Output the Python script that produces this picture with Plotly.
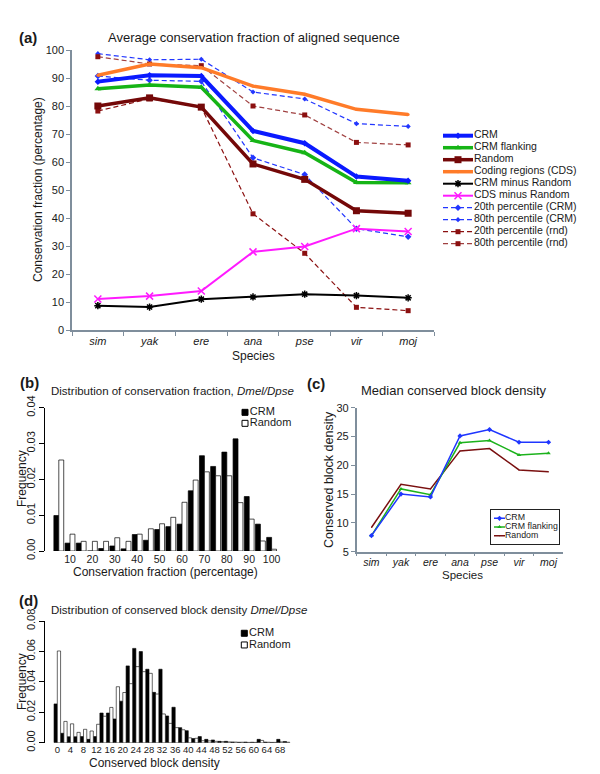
import plotly.graph_objects as go

W, H = 600, 774

# ---------------- data ----------------
species = ["sim", "yak", "ere", "ana", "pse", "vir", "moj"]
species_ticktext = ["<i>" + s + "</i>" for s in species]

# (a) average conservation fraction (percentage)
crm = [88.7, 91.0, 90.7, 71.1, 66.7, 54.8, 53.3]
crm_flanking = [86.2, 87.5, 86.7, 67.7, 63.3, 52.7, 52.6]
random_seq = [80.0, 82.9, 79.6, 59.3, 53.8, 42.6, 41.7]
cds = [91.0, 95.0, 93.7, 87.1, 84.2, 78.8, 77.0]
crm_minus_random = [8.7, 8.2, 11.0, 11.8, 12.8, 12.3, 11.5]
cds_minus_random = [11.1, 12.1, 13.9, 27.9, 29.8, 36.2, 35.2]
p20_crm = [90.7, 89.2, 88.8, 61.5, 55.5, 36.2, 33.3]
p80_crm = [98.7, 96.5, 96.7, 85.0, 82.5, 73.7, 72.7]
p20_rnd = [78.2, 82.6, 79.6, 41.5, 27.4, 8.1, 6.9]
p80_rnd = [97.6, 95.0, 94.4, 80.0, 76.8, 67.0, 66.1]

# (b) distribution of conservation fraction
cons_bins = [5, 10, 15, 20, 25, 30, 35, 40, 45, 50, 55, 60, 65, 70, 75, 80, 85, 90, 95, 100]
cons_crm = [0.0099, 0.0022, 0.0022, 0.0, 0.0007, 0.0014, 0.0006, 0.0046, 0.0030, 0.0060,
            0.0068, 0.0075, 0.0168, 0.0266, 0.0236, 0.0276, 0.0313, 0.0152, 0.0075, 0.0038]
cons_rnd = [0.0254, 0.0047, 0.0027, 0.0027, 0.0027, 0.0037, 0.0027, 0.0047, 0.0062, 0.0076,
            0.0094, 0.0136, 0.0198, 0.0221, 0.0210, 0.0210, 0.0135, 0.0089, 0.0028, 0.0005]
cons_ticks = [10, 20, 30, 40, 50, 60, 70, 80, 90, 100]

# (c) median conserved block density
block_crm = [7.8, 15.0, 14.5, 25.1, 26.2, 24.0, 24.0]
block_flanking = [7.8, 15.9, 14.9, 23.9, 24.3, 21.8, 22.1]
block_random = [9.2, 16.7, 15.9, 22.5, 22.9, 19.2, 18.9]

# (d) distribution of conserved block density
dens_bins = list(range(0, 72, 2))
dens_crm = [0.0255, 0.0062, 0.0039, 0.0039, 0.0040, 0.0022, 0.0040, 0.0195, 0.0195, 0.0156,
            0.0273, 0.0505, 0.0620, 0.0599, 0.0483, 0.0331, 0.0483, 0.0176, 0.0233, 0.0099,
            0.0079, 0.0027, 0.0040, 0.0022, 0.0018, 0.0009, 0.0009, 0.0005, 0.0003, 0.0004,
            0.0003, 0.0022, 0.0004, 0.0002, 0.0022, 0.0008]
dens_rnd = [0.0603, 0.0140, 0.0124, 0.0068, 0.0088, 0.0077, 0.0121, 0.0174, 0.0232, 0.0368,
            0.0330, 0.0388, 0.0500, 0.0467, 0.0456, 0.0320, 0.0189, 0.0127, 0.0099, 0.0085,
            0.0032, 0.0029, 0.0013, 0.0012, 0.0009, 0.0007, 0.0005, 0.0004, 0.0003, 0.0002,
            0.0002, 0.0015, 0.0003, 0.0002, 0.0005, 0.0003]
dens_ticks = list(range(0, 72, 4))

# ---------------- helpers ----------------
FONT = "Liberation Sans, Arial, Helvetica, sans-serif"
AXIS_GREY = "#7f8e9c"


def dom_x(left, right):
    return [left / W, right / W]


def dom_y(top, bottom):
    return [1 - bottom / H, 1 - top / H]


annotations = []


def ann(text, x, y, size, xanchor="left", angle=0, bold=False):
    if bold:
        text = "<b>" + text + "</b>"
    annotations.append(dict(text=text, x=x / W, y=1 - y / H, xref="paper", yref="paper",
                            xanchor=xanchor, yanchor="middle", showarrow=False,
                            textangle=angle, font=dict(family=FONT, size=size, color="#1a1a1a")))


fig = go.Figure()

# ---------------- panel (a) ----------------
series_a = [
    ("20th percentile (CRM)", p20_crm, dict(color="#2236ff", width=1.2, dash="5px,3px"),
     dict(symbol="diamond", size=5, color="#2236ff")),
    ("80th percentile (CRM)", p80_crm, dict(color="#2236ff", width=1.2, dash="5px,3px"),
     dict(symbol="diamond", size=4, color="#2236ff")),
    ("20th percentile (rnd)", p20_rnd, dict(color="#8b1010", width=1.2, dash="5px,3px"),
     dict(symbol="square", size=5, color="#8b1010")),
    ("80th percentile (rnd)", p80_rnd, dict(color="#a04040", width=1.2, dash="5px,3px"),
     dict(symbol="square", size=5, color="#8b1010")),
    ("CRM minus Random", crm_minus_random, dict(color="black", width=2),
     dict(symbol="asterisk-open", size=6, color="black", line=dict(width=1.5, color="black"))),
    ("CDS minus Random", cds_minus_random, dict(color="#ff1aff", width=2),
     dict(symbol="x-thin-open", size=7, color="#ff1aff", line=dict(width=1.5, color="#ff1aff"))),
    ("Coding regions (CDS)", cds, dict(color="#ff7b29", width=3.5),
     dict(symbol="circle", size=3, color="#ff7b29")),
    ("Random", random_seq, dict(color="#740808", width=3.5),
     dict(symbol="square", size=7, color="#740808")),
    ("CRM flanking", crm_flanking, dict(color="#16b416", width=3.5),
     dict(symbol="triangle-up", size=6, color="#16b416")),
    ("CRM", crm, dict(color="#0a1aff", width=4),
     dict(symbol="diamond", size=5, color="#0a1aff")),
]
for name, vals, line, marker in series_a:
    fig.add_trace(go.Scatter(x=species, y=vals, mode="lines+markers", name=name, line=line,
                             marker=marker, xaxis="x", yaxis="y", showlegend=False,
                             cliponaxis=False))

# manual legend for (a)
legend_order_a = ["CRM", "CRM flanking", "Random", "Coding regions (CDS)", "CRM minus Random",
                  "CDS minus Random", "20th percentile (CRM)", "80th percentile (CRM)",
                  "20th percentile (rnd)", "80th percentile (rnd)"]
style_a = {s[0]: s for s in series_a}
for i, name in enumerate(legend_order_a):
    _, _, line, marker = style_a[name]
    fig.add_trace(go.Scatter(x=[0, 1], y=[i, i], mode="lines", line=line, cliponaxis=False,
                             xaxis="x5", yaxis="y5", showlegend=False, hoverinfo="skip"))
    fig.add_trace(go.Scatter(x=[0.5], y=[i], mode="markers", marker=marker, cliponaxis=False,
                             xaxis="x5", yaxis="y5", showlegend=False, hoverinfo="skip"))
    fig.add_trace(go.Scatter(x=[1.03], y=[i], mode="text", text=[name], textposition="middle right",
                             textfont=dict(family=FONT, size=10.5, color="#1a1a1a"),
                             cliponaxis=False,
                             xaxis="x5", yaxis="y5", showlegend=False, hoverinfo="skip"))

# ---------------- panel (b) ----------------
fig.add_trace(go.Bar(x=cons_bins, y=cons_crm, width=2.2, offset=-2.2, name="CRM",
                     marker=dict(color="black", line=dict(color="black", width=0.7)),
                     xaxis="x2", yaxis="y2", showlegend=False))
fig.add_trace(go.Bar(x=cons_bins, y=cons_rnd, width=2.2, offset=0, name="Random",
                     marker=dict(color="white", line=dict(color="black", width=0.7)),
                     xaxis="x2", yaxis="y2", showlegend=False))

# ---------------- panel (c) ----------------
series_c = [
    ("Random", block_random, dict(color="#7a1010", width=1.5), dict(size=1, color="#7a1010")),
    ("CRM flanking", block_flanking, dict(color="#1cb21c", width=1.5),
     dict(symbol="triangle-up", size=4, color="#1cb21c")),
    ("CRM", block_crm, dict(color="#1f36ff", width=1.5),
     dict(symbol="diamond", size=4, color="#1f36ff")),
]
for name, vals, line, marker in series_c:
    fig.add_trace(go.Scatter(x=species, y=vals, mode="lines+markers", name=name, line=line,
                             marker=marker, xaxis="x3", yaxis="y3", showlegend=False,
                             cliponaxis=False))
legend_order_c = ["CRM", "CRM flanking", "Random"]
style_c = {s[0]: s for s in series_c}
for i, name in enumerate(legend_order_c):
    _, _, line, marker = style_c[name]
    fig.add_trace(go.Scatter(x=[0, 1], y=[i, i], mode="lines", line=line, cliponaxis=False,
                             xaxis="x7", yaxis="y7", showlegend=False, hoverinfo="skip"))
    fig.add_trace(go.Scatter(x=[0.5], y=[i], mode="markers", marker=marker, cliponaxis=False,
                             xaxis="x7", yaxis="y7", showlegend=False, hoverinfo="skip"))
    fig.add_trace(go.Scatter(x=[1], y=[i], mode="text", text=[name], textposition="middle right",
                             textfont=dict(family=FONT, size=8.8, color="#1a1a1a"),
                             cliponaxis=False,
                             xaxis="x7", yaxis="y7", showlegend=False, hoverinfo="skip"))

# ---------------- panel (d) ----------------
fig.add_trace(go.Bar(x=dens_bins, y=dens_crm, width=1.0, offset=-1.0, name="CRM",
                     marker=dict(color="black", line=dict(color="black", width=0.6)),
                     xaxis="x4", yaxis="y4", showlegend=False))
fig.add_trace(go.Bar(x=dens_bins, y=dens_rnd, width=1.0, offset=0, name="Random",
                     marker=dict(color="white", line=dict(color="black", width=0.6)),
                     xaxis="x4", yaxis="y4", showlegend=False))

# manual square legends for (b) and (d)
for xa, ya in (("x6", "y6"), ("x8", "y8")):
    for i, (name, fill) in enumerate((("CRM", "black"), ("Random", "white"))):
        fig.add_trace(go.Scatter(x=[0], y=[i], mode="markers+text", text=[name],
                                 textposition="middle right", cliponaxis=False,
                                 textfont=dict(family=FONT, size=11, color="#1a1a1a"),
                                 marker=dict(symbol="square", size=6, color=fill,
                                             line=dict(color="black", width=1)),
                                 xaxis=xa, yaxis=ya, showlegend=False, hoverinfo="skip"))

# ---------------- axes ----------------
tickfont = dict(family=FONT, size=11, color="#1a1a1a")
hidden = dict(visible=False, showgrid=False, zeroline=False, fixedrange=True, automargin=False)
common = dict(automargin=False, showgrid=False, zeroline=False)

layout_axes = dict(
    # (a)
    xaxis=dict(domain=dom_x(72, 434), anchor="y", type="category", categoryorder="array",
               categoryarray=species, range=[-0.5, 6.5], tickmode="array", tickvals=species,
               ticktext=species_ticktext, tickson="boundaries", ticks="outside", ticklen=4,
               tickcolor=AXIS_GREY, showline=True, linecolor=AXIS_GREY, linewidth=1.5,
               tickangle=0, tickfont=tickfont, **common),
    yaxis=dict(domain=dom_y(50, 330), anchor="x", range=[0, 100], dtick=10, ticks="outside",
               ticklen=4, tickcolor=AXIS_GREY, showline=True, linecolor=AXIS_GREY, linewidth=1.5,
               tickfont=tickfont, **common),
    # (b)
    xaxis2=dict(domain=dom_x(45, 280), anchor="y2", range=[-1.16, 103.75], tickmode="array",
                tickvals=cons_ticks, ticks="", showline=False, tickangle=0,
                tickfont=dict(family=FONT, size=10.5, color="#1a1a1a"), **common),
    yaxis2=dict(domain=dom_y(407.7, 551), anchor="x2", range=[0, 0.04], dtick=0.01,
                tickformat=".2f", tickangle=-90, ticks="outside", ticklen=5, tickcolor="black",
                showline=True, linecolor="black", linewidth=1, tickfont=tickfont, **common),
    # (c)
    xaxis3=dict(domain=dom_x(356.7, 563.3), anchor="y3", type="category", categoryorder="array",
                categoryarray=species, range=[-0.5, 6.5], tickmode="array", tickvals=species,
                ticktext=species_ticktext, tickson="boundaries", ticks="outside", ticklen=3,
                tickcolor=AXIS_GREY, showline=True, linecolor=AXIS_GREY, linewidth=1.5,
                tickangle=0, tickfont=dict(family=FONT, size=10.5, color="#1a1a1a"), **common),
    yaxis3=dict(domain=dom_y(407.7, 551.7), anchor="x3", range=[5, 30], dtick=5, ticks="outside",
                ticklen=4, tickcolor=AXIS_GREY, showline=True, linecolor=AXIS_GREY, linewidth=1.5,
                tickfont=tickfont, **common),
    # (d)
    xaxis4=dict(domain=dom_x(45, 292), anchor="y4", range=[-3.76, 71.67], tickmode="array",
                tickvals=dens_ticks, ticks="", showline=False, tickangle=0,
                tickfont=dict(family=FONT, size=9.5, color="#1a1a1a"), **common),
    yaxis4=dict(domain=dom_y(621, 742.7), anchor="x4", range=[0, 0.08], dtick=0.02,
                tickformat=".2f", tickangle=-90, ticks="outside", ticklen=5, tickcolor="black",
                showline=True, linecolor="black", linewidth=1, tickfont=tickfont, **common),
    # legend (a)
    xaxis5=dict(domain=dom_x(443, 600), anchor="y5", range=[0, 157 / 30], **hidden),
    yaxis5=dict(domain=dom_y(130, 250), anchor="x5", range=[9.525, -0.475], **hidden),
    # legend (b)
    xaxis6=dict(domain=dom_x(235, 300), anchor="y6", range=[-1, 5.5], **hidden),
    yaxis6=dict(domain=dom_y(402, 434), anchor="x6", range=[1.97, -0.94], **hidden),
    # legend (c) with box; sample line 494 -> 505 px
    xaxis7=dict(domain=dom_x(491, 559.3), anchor="y7", range=[-3 / 11, 65.3 / 11],
                showline=True, mirror=True, linecolor="#222", linewidth=1, showticklabels=False,
                ticks="", fixedrange=True, **common),
    yaxis7=dict(domain=dom_y(510, 544), anchor="x7", range=[2.954, -0.954],
                showline=True, mirror=True, linecolor="#222", linewidth=1, showticklabels=False,
                ticks="", fixedrange=True, **common),
    # legend (d)
    xaxis8=dict(domain=dom_x(234.3, 300), anchor="y8", range=[-1, 5.57], **hidden),
    yaxis8=dict(domain=dom_y(623, 655), anchor="x8", range=[1.86, -0.88], **hidden),
)

# ---------------- text ----------------
ann("(a)", 17, 37, 15, bold=True)
ann("Average conservation fraction of aligned sequence", 106, 37, 13)
ann("Conservation fraction (percentage)", 38, 190, 12, xanchor="center", angle=-90)
ann("Species", 253, 356, 12, xanchor="center")

ann("(b)", 18, 382, 15, bold=True)
ann("Distribution of conservation fraction, <i>Dmel/Dpse</i>", 49, 391, 11.5)
ann("Frequency", 22, 479, 12, xanchor="center", angle=-90)
ann("Conservation fraction (percentage)", 165, 572, 12, xanchor="center")

ann("(c)", 305, 383, 15, bold=True)
ann("Median conserved block density", 453, 390, 13, xanchor="center")
ann("Conserved block density", 329, 480, 12.5, xanchor="center", angle=-90)
ann("Species", 463, 575, 11.5, xanchor="center")

ann("(d)", 17, 600, 15, bold=True)
ann("Distribution of conserved block density <i>Dmel/Dpse</i>", 49, 610, 11.5)
ann("Frequency", 22, 682, 12, xanchor="center", angle=-90)
ann("Conserved block density", 154, 763, 12, xanchor="center")

fig.update_layout(
    template="none",
    width=W, height=H, margin=dict(l=0, r=0, t=0, b=0, pad=0, autoexpand=False),
    paper_bgcolor="white", plot_bgcolor="white",
    font=dict(family=FONT, size=11, color="#1a1a1a"),
    barmode="overlay", showlegend=False, annotations=annotations,
    **layout_axes,
)

fig.write_html("out.html", config={"displayModeBar": False},
               post_script="document.body.style.margin='0px';document.body.style.padding='0px';")
